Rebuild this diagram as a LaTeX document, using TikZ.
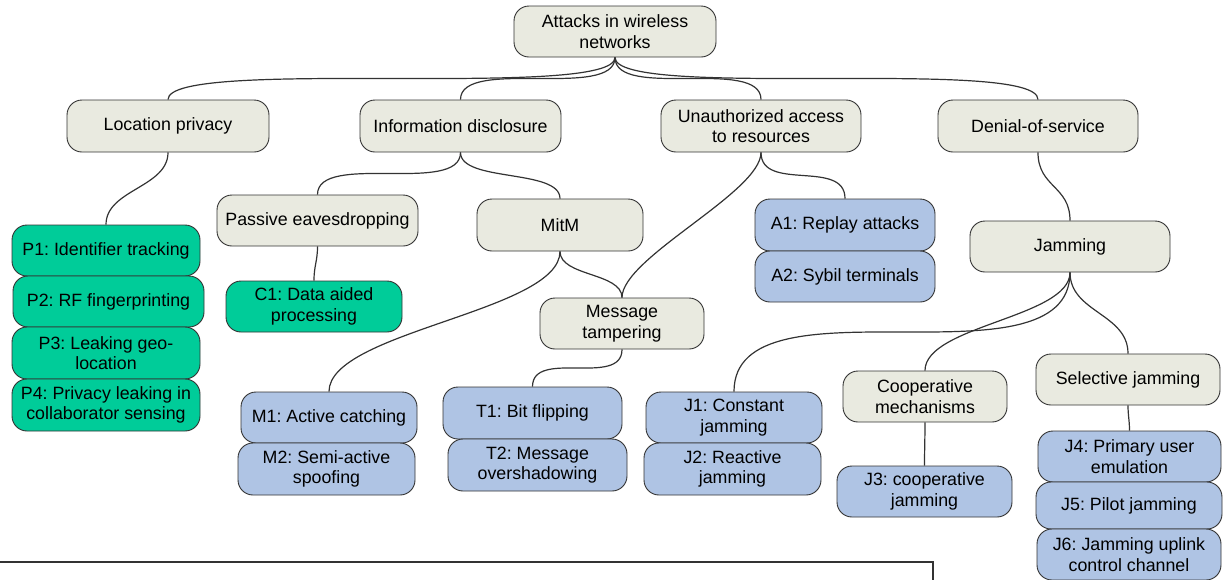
\documentclass[tikz,border=0pt]{standalone}
\usepackage{fontspec}
\setmainfont{Liberation Sans}
\usetikzlibrary{calc}
\definecolor{mybeige}{HTML}{E9EAE0}
\definecolor{mygreen}{HTML}{00CC99}
\definecolor{myblue}{HTML}{AFC4E4}
\definecolor{myline}{HTML}{333333}
\frenchspacing
\tikzset{
  box/.style={draw=myline, line width=0.9pt, rounded corners=15pt, align=center,
    inner sep=0pt, font=\fontsize{17.8}{20.5}\selectfont},
  cat/.style={box, fill=mybeige},
  grn/.style={box, fill=mygreen},
  blu/.style={box, fill=myblue},
  conn/.style={draw=myline, line width=1.2pt},
  sz/.style n args={2}{minimum width=#1pt, minimum height=#2pt},
}
\newcommand\cn[3]{\draw[conn] (#1) .. controls ($(#1)+(0,#3)$) and ($(#2)-(0,#3)$) .. (#2);}
\begin{document}
\frenchspacing
\begin{tikzpicture}[x=1pt,y=-1pt]
\path[use as bounding box] (0,0) rectangle (1224,579);
% top level
\node[cat, sz={202}{51}] (root) at (615,31.5) {Attacks in wireless\\networks};
\node[cat, sz={202}{52}] (loc) at (168,126) {Location privacy};
\node[cat, sz={201}{52}] (info) at (460.5,126) {Information disclosure};
\node[cat, sz={200}{52}] (unauth) at (761,126) {Unauthorized access\\to resources};
\node[cat, sz={200}{52}] (dos) at (1038,126) {Denial-of-service};
% second level
\node[cat, sz={201}{51}] (pe) at (317.5,220.5) {Passive eavesdropping};
\node[cat, sz={166}{52}] (mitm) at (560,225) {MitM};
\node[cat, sz={164}{51}] (mt) at (622,323.5) {Message\\tampering};
\node[cat, sz={200}{51}] (jam) at (1070,246.5) {Jamming};
\node[cat, sz={164}{51}] (coop) at (925,396.5) {Cooperative\\mechanisms};
\node[cat, sz={184}{51}] (sel) at (1128,379.5) {Selective jamming};
% leaves green
\node[grn, sz={188}{51}] (p1) at (106,250.5) {P1: Identifier tracking};
\node[grn, sz={191}{51}] (p2) at (108.5,301.5) {P2: RF fingerprinting};
\node[grn, sz={188}{52}] (p3) at (106,353) {P3: Leaking geo-\\location};
\node[grn, sz={188}{52}] (p4) at (106,405) {P4: Privacy leaking in\\collaborator sensing};
\node[grn, sz={176}{51}] (c1) at (314,306.5) {C1: Data aided\\processing};
% leaves blue
\node[blu, sz={180}{52}] (a1) at (845,225) {A1: Replay attacks};
\node[blu, sz={180}{51}] (a2) at (845,276.5) {A2: Sybil terminals};
\node[blu, sz={176}{51}] (m1) at (329,417.5) {M1: Active catching};
\node[blu, sz={177}{52}] (m2) at (326.5,469) {M2: Semi-active\\spoofing};
\node[blu, sz={179}{52}] (t1) at (532.5,413) {T1: Bit flipping};
\node[blu, sz={179}{52}] (t2) at (537.5,465) {T2: Message\\overshadowing};
\node[blu, sz={176}{51}] (j1) at (734,417.5) {J1: Constant\\jamming};
\node[blu, sz={177}{52}] (j2) at (732.5,469) {J2: Reactive\\jamming};
\node[blu, sz={175}{51}] (j3) at (924.5,491.5) {J3: cooperative\\jamming};
\node[blu, sz={183}{51}] (j4) at (1129.5,456.5) {J4: Primary user\\emulation};
\node[blu, sz={186}{47}] (j5) at (1129,505.5) {J5: Pilot jamming};
\node[blu, sz={184}{51}] (j6) at (1129,554.5) {J6: Jamming uplink\\control channel};
% connectors
\cn{root.south}{loc.north}{43}
\cn{root.south}{info.north}{43}
\cn{root.south}{unauth.north}{43}
\cn{root.south}{dos.north}{43}
\cn{loc.south}{p1.north}{35}
\cn{info.south}{pe.north}{43}
\cn{info.south}{mitm.north}{30}
\cn{pe.south}{c1.north}{15}
\cn{mitm.south}{m1.north}{60}
\cn{mitm.south}{mt.north}{25}
\cn{unauth.south}{mt.north}{40}
\cn{unauth.south}{a1.north}{40}
\cn{mt.south}{t1.north}{38}
\cn{dos.south}{jam.north}{35}
\cn{jam.south}{j1.north}{120}
\cn{jam.south}{coop.north}{45}
\cn{jam.south}{sel.north}{40}
\cn{coop.south}{j3.north}{15}
\cn{sel.south}{j4.north}{10}
% cropped frame at the bottom
\draw[myline, line width=2pt] (-2,562) -- (933,562) -- (933,585);
\end{tikzpicture}
\end{document}
